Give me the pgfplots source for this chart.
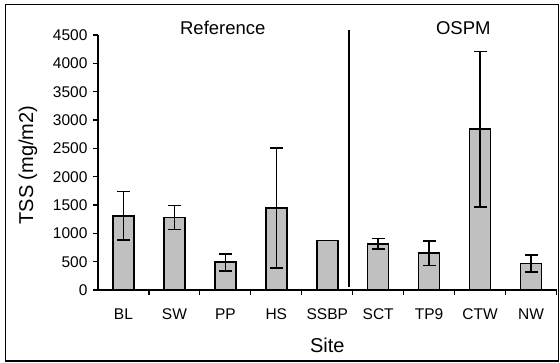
\documentclass[border=0pt]{standalone}
\usepackage{fontspec}
\setmainfont{Liberation Sans}
\usepackage{pgfplots}
\pgfplotsset{compat=1.18}
\usepackage{pgfplotstable}

\definecolor{barfill}{HTML}{C0C0C0}

% Mean TSS per site with standard error (idx = category position)
\pgfplotstableread{
idx  tss   err
0    1310  430
1    1280  210
2    490   150
3    1450  1060
5    815   95
6    650   215
7    2840  1370
8    465   150
}\sitedata
% SSBP has a single sample, so no error bar
\pgfplotstableread{
idx  tss
4    870
}\ssbpdata

\begin{document}
\begin{tikzpicture}
\begin{axis}[
  at={(98bp,73bp)}, anchor=south west,
  scale only axis, width=458.5bp, height=255bp,
  xmin=-0.5, xmax=8.5, ymin=0, ymax=4500,
  axis lines*=left,
  axis line style={line width=1.4bp},
  clip=false,
  ybar, bar width=21bp, bar shift=0pt,
  xtick={0,...,8},
  xticklabels={BL,SW,PP,HS,SSBP,SCT,TP9,CTW,NW},
  minor xtick={0.5,1.5,...,8.5},
  every major x tick/.append style={draw=none},
  ytick={0,500,...,4500},
  tick align=outside,
  major tick length=5bp, minor tick length=5bp,
  every tick/.style={black, line width=1.2bp},
  /pgf/number format/assume math mode=true,
  /pgf/number format/set thousands separator={},
  yticklabel style={font=\fontsize{15.5bp}{17bp}\selectfont, anchor=east, xshift=-2bp},
  xticklabel style={font=\fontsize{15.5bp}{17bp}\selectfont, anchor=base, yshift=-24bp},
  ylabel={TSS (mg/m2)},
  xlabel={Site},
  label style={font=\fontsize{20bp}{22bp}\selectfont},
  ylabel style={at={(axis description cs:-0.153,0.49)}, anchor=center},
  xlabel style={at={(axis description cs:0.5,-0.216)}, anchor=center},
]
\addplot[fill=barfill, draw=black, line width=1.6bp,
  error bars/.cd, y dir=both, y explicit,
  error bar style={line width=1.6bp, black},
  error mark options={rotate=90, mark size=6.5bp, line width=1.6bp, black}]
  table[x=idx, y=tss, y error=err] {\sitedata};
\addplot[fill=barfill, draw=black, line width=1.6bp]
  table[x=idx, y=tss] {\ssbpdata};
% divider between the reference and OSPM sites
\addplot[sharp plot, black, line width=1.6bp, forget plot]
  coordinates {(4.43,50) (4.43,4590)};
\node[font=\fontsize{18.5bp}{20bp}\selectfont] at (axis cs:1.95,4623) {Reference};
\node[font=\fontsize{18.5bp}{20bp}\selectfont] at (axis cs:6.67,4623) {OSPM};
\end{axis}
\draw[black, line width=1.2bp] (5.5bp,2bp) rectangle (558.5bp,358.5bp);
\pgfresetboundingbox
\useasboundingbox (0,0) rectangle (560bp,363bp);
\end{tikzpicture}
\end{document}
